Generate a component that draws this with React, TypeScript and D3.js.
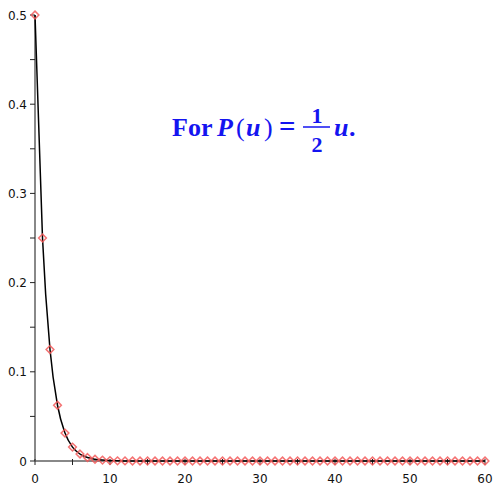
import { useEffect, useRef } from "react";
import * as d3 from "d3";

// sample points (x = 0..60)
const X_VALUES = [
  0, 1, 2, 3, 4, 5, 6, 7, 8, 9, 10, 11, 12, 13, 14, 15, 16, 17, 18, 19, 20,
  21, 22, 23, 24, 25, 26, 27, 28, 29, 30, 31, 32, 33, 34, 35, 36, 37, 38, 39, 40,
  41, 42, 43, 44, 45, 46, 47, 48, 49, 50, 51, 52, 53, 54, 55, 56, 57, 58, 59, 60,
];
const Y_VALUES = [
  0.5, 0.25, 0.125, 0.0625, 0.0313, 0.0156, 0.0078, 0.0039, 0.002, 0.001, 0.0005,
  0.0002, 0.0001, 0, 0, 0, 0, 0, 0, 0, 0,
  0, 0, 0, 0, 0, 0, 0, 0, 0, 0, 0, 0, 0, 0, 0, 0, 0, 0, 0, 0,
  0, 0, 0, 0, 0, 0, 0, 0, 0, 0, 0, 0, 0, 0, 0, 0, 0, 0, 0, 0,
];
const X_TICKS = [0, 10, 20, 30, 40, 50, 60];
const X_MINOR = [5, 15, 25, 35, 45, 55];
const Y_TICKS = [0, 0.1, 0.2, 0.3, 0.4, 0.5];
const Y_MINOR = [0.05, 0.15, 0.25, 0.35, 0.45];
const Y_LABELS = ["0", "0.1", "0.2", "0.3", "0.4", "0.5"];

export default function App() {
  const svgRef = useRef<SVGSVGElement>(null);

  useEffect(() => {
    const svg = d3.select(svgRef.current);
    svg.selectAll("*").remove();

    const x = d3.scaleLinear().domain([0, 60]).range([35, 485]);
    const y = d3.scaleLinear().domain([0, 0.5]).range([461, 15]);
    const data = X_VALUES.map((v, i) => ({ x: v, y: Y_VALUES[i] }));

    // ----- axes -----
    const axisG = svg.append("g");
    axisG.append("line")
      .attr("x1", x(0)).attr("x2", x(60))
      .attr("y1", y(0)).attr("y2", y(0))
      .attr("stroke", "#888").attr("stroke-width", 2);
    axisG.append("line")
      .attr("x1", x(0)).attr("x2", x(0))
      .attr("y1", y(0)).attr("y2", y(0.5))
      .attr("stroke", "#888").attr("stroke-width", 2);

    [...X_TICKS, ...X_MINOR].forEach((t) => {
      axisG.append("line")
        .attr("x1", x(t)).attr("x2", x(t))
        .attr("y1", y(0) - 2).attr("y2", y(0) + 4)
        .attr("stroke", "#222").attr("stroke-width", 1);
    });
    [...Y_TICKS, ...Y_MINOR].forEach((t) => {
      axisG.append("line")
        .attr("x1", x(0) - 5).attr("x2", x(0))
        .attr("y1", y(t)).attr("y2", y(t))
        .attr("stroke", "#222").attr("stroke-width", 1);
    });

    axisG.selectAll("text.xt")
      .data(X_TICKS)
      .enter().append("text")
      .attr("class", "xt")
      .attr("x", (d) => x(d)).attr("y", y(0) + 22)
      .attr("text-anchor", "middle")
      .attr("font-family", "DejaVu Sans, Verdana, sans-serif")
      .attr("font-size", "12px")
      .attr("fill", "#111")
      .text((d) => String(d));

    axisG.selectAll("text.yt")
      .data(Y_TICKS)
      .enter().append("text")
      .attr("class", "yt")
      .attr("x", x(0) - 8).attr("y", (d) => y(d) + 4.5)
      .attr("text-anchor", "end")
      .attr("font-family", "DejaVu Sans, Verdana, sans-serif")
      .attr("font-size", "12px")
      .attr("fill", "#111")
      .text((d, i) => Y_LABELS[i]);

    // ----- curve -----
    const line = d3.line<{ x: number; y: number }>()
      .x((d) => x(d.x)).y((d) => y(d.y))
      .curve(d3.curveMonotoneX);
    svg.append("path")
      .datum(data)
      .attr("d", line)
      .attr("fill", "none")
      .attr("stroke", "#000")
      .attr("stroke-width", 1.5);

    // ----- diamond markers -----
    const diamond = d3.symbol().type(d3.symbolDiamond2).size(38);
    svg.append("g").selectAll("path")
      .data(data)
      .enter().append("path")
      .attr("d", diamond)
      .attr("transform", (d) => `translate(${x(d.x)},${y(d.y)})`)
      .attr("fill", "none")
      .attr("stroke", "#f25a5a")
      .attr("stroke-opacity", 0.85)
      .attr("stroke-width", 1.5);

    // ----- title: For P(u) = 1/2 u. -----
    const blue = "#1414f0";
    const tg = svg.append("g")
      .attr("font-family", "'Liberation Serif', 'Times New Roman', serif")
      .attr("font-weight", "bold")
      .attr("fill", blue);
    const base = 136;
    const fs = "26px";
    tg.append("text").attr("x", 172).attr("y", base).attr("font-size", fs).text("For");
    tg.append("text").attr("x", 217).attr("y", base).attr("font-size", fs)
      .attr("font-style", "italic").text("P");
    tg.append("text").attr("x", 236).attr("y", base).attr("font-size", fs)
      .attr("font-weight", "normal").text("(");
    tg.append("text").attr("x", 246).attr("y", base).attr("font-size", fs)
      .attr("font-style", "italic").text("u");
    tg.append("text").attr("x", 264).attr("y", base).attr("font-size", fs)
      .attr("font-weight", "normal").text(")");
    tg.append("text").attr("x", 279).attr("y", base).attr("font-size", "29px").text("=");
    tg.append("text").attr("x", 317).attr("y", 123).attr("text-anchor", "middle")
      .attr("font-size", "22px").text("1");
    tg.append("line").attr("x1", 303).attr("x2", 330).attr("y1", 127).attr("y2", 127)
      .attr("stroke", blue).attr("stroke-width", 1.5);
    tg.append("text").attr("x", 317).attr("y", 152).attr("text-anchor", "middle")
      .attr("font-size", "22px").text("2");
    tg.append("text").attr("x", 334).attr("y", base).attr("font-size", fs)
      .attr("font-style", "italic").text("u");
    tg.append("text").attr("x", 349).attr("y", base).attr("font-size", fs).text(".");
  }, []);

  return (
    <svg
      ref={svgRef}
      width={500}
      height={500}
      style={{ position: "absolute", left: 0, top: 0, background: "#fff" }}
    />
  );
}
